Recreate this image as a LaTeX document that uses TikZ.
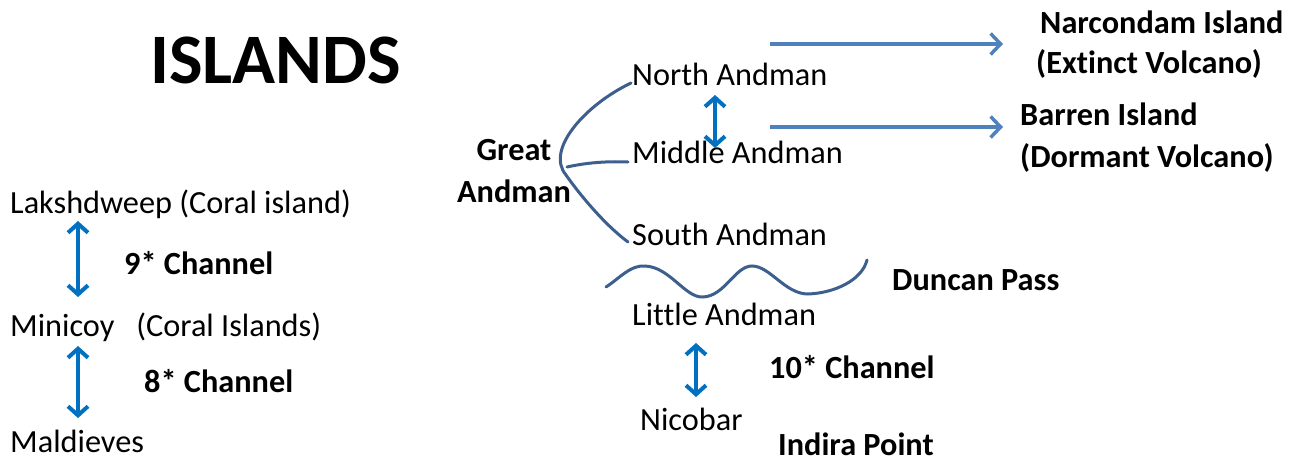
\documentclass[tikz,border=0pt]{standalone}
\usepackage{fontspec}
\setmainfont{Carlito}[Ligatures=NoCommon]
\usetikzlibrary{arrows.meta}
\definecolor{arrblue}{HTML}{0070C0}
\definecolor{lineblue}{HTML}{4F81BD}
\definecolor{curveblue}{HTML}{3C5F8E}
\begin{document}
\begin{tikzpicture}[x=1pt,y=-1pt,
  txt/.style={anchor=base west,inner sep=0pt,font=\fontsize{32.3}{38}\selectfont},
  btxt/.style={anchor=base west,inner sep=0pt,font=\fontsize{32.3}{38}\selectfont\bfseries},
  dbl/.style={draw=arrblue,line width=4pt,{Straight Barb[length=9pt,width=20pt]}-{Straight Barb[length=9pt,width=20pt]}},
  harr/.style={draw=lineblue,line width=3.5pt,-{Straight Barb[length=10pt,width=21pt]}},
  crv/.style={draw=curveblue,line width=3pt,line cap=round}]
\useasboundingbox (0,0) rectangle (1295,463);
% title
\node[anchor=base west,inner sep=0pt,font=\fontsize{71}{80}\selectfont\bfseries] (title) at (150,83) {ISLANDS};
% left column
\node[txt] (lak) at (10,213) {Lakshdweep (Coral island)};
\node[btxt] (c9) at (124,274) {9* Channel};
\node[txt] (mini) at (10,336) {Minicoy\ \ \ (Coral Islands)};
\node[btxt] (c8) at (144,392) {8* Channel};
\node[txt] (mald) at (10,452) {Maldieves};
\coordinate (a1t) at (78,221);
\coordinate (a1b) at (78,297);
\coordinate (a2t) at (78,346);
\coordinate (a2b) at (78,418);
\draw[dbl] (a1t) -- (a1b);
\draw[dbl] (a2t) -- (a2b);
% right part
\node[inner sep=0pt,align=center,font=\fontsize{32.3}{42}\selectfont\bfseries] (great) at (514,171) {Great\\Andman};
\node[txt] (north) at (632,85) {North Andman};
\node[txt] (middle) at (632,163) {Middle Andman};
\node[txt] (south) at (632,245) {South Andman};
\coordinate (cn) at (631,83);
\coordinate (cs) at (628,242);
\coordinate (cm) at (628,162);
\coordinate (cj) at (567,167);
\draw[crv] (cn) .. controls (585,105) and (545,150) .. (566,175) .. controls (580,195) and (605,225) .. (cs);
\draw[crv] (cj) .. controls (585,163) and (605,161) .. (cm);
\coordinate (a3t) at (715,95);
\coordinate (a3b) at (715,148);
\draw[dbl] (a3t) -- (a3b);
\coordinate (h1s) at (770,44);
\coordinate (h1e) at (1003,44);
\coordinate (h2s) at (770,127);
\coordinate (h2e) at (1003,127);
\draw[harr] (h1s) -- (h1e);
\draw[harr] (h2s) -- (h2e);
\node[btxt] (narc) at (1040,33) {Narcondam Island};
\node[btxt] (ext) at (1036,73) {(Extinct Volcano)};
\node[btxt] (barren) at (1020,125) {Barren Island};
\node[btxt] (dorm) at (1020,167) {(Dormant Volcano)};
% wave
\coordinate (w0) at (606,287);
\coordinate (w1) at (867,260);
\draw[crv] (w0) .. controls (620,278) and (630,265) .. (645,266)
  .. controls (670,267) and (685,298) .. (703,297)
  .. controls (725,296) and (735,266) .. (752,266)
  .. controls (770,266) and (785,294) .. (808,294)
  .. controls (835,293) and (862,280) .. (w1);
\node[btxt] (duncan) at (892,290) {Duncan Pass};
\node[txt] (little) at (632,325) {Little Andman};
\coordinate (a4t) at (696,343);
\coordinate (a4b) at (696,397);
\draw[dbl] (a4t) -- (a4b);
\node[btxt] (c10) at (769,378) {10* Channel};
\node[txt] (nico) at (640,430) {Nicobar};
\node[btxt] (indira) at (778,455) {Indira Point};
\end{tikzpicture}
\end{document}
